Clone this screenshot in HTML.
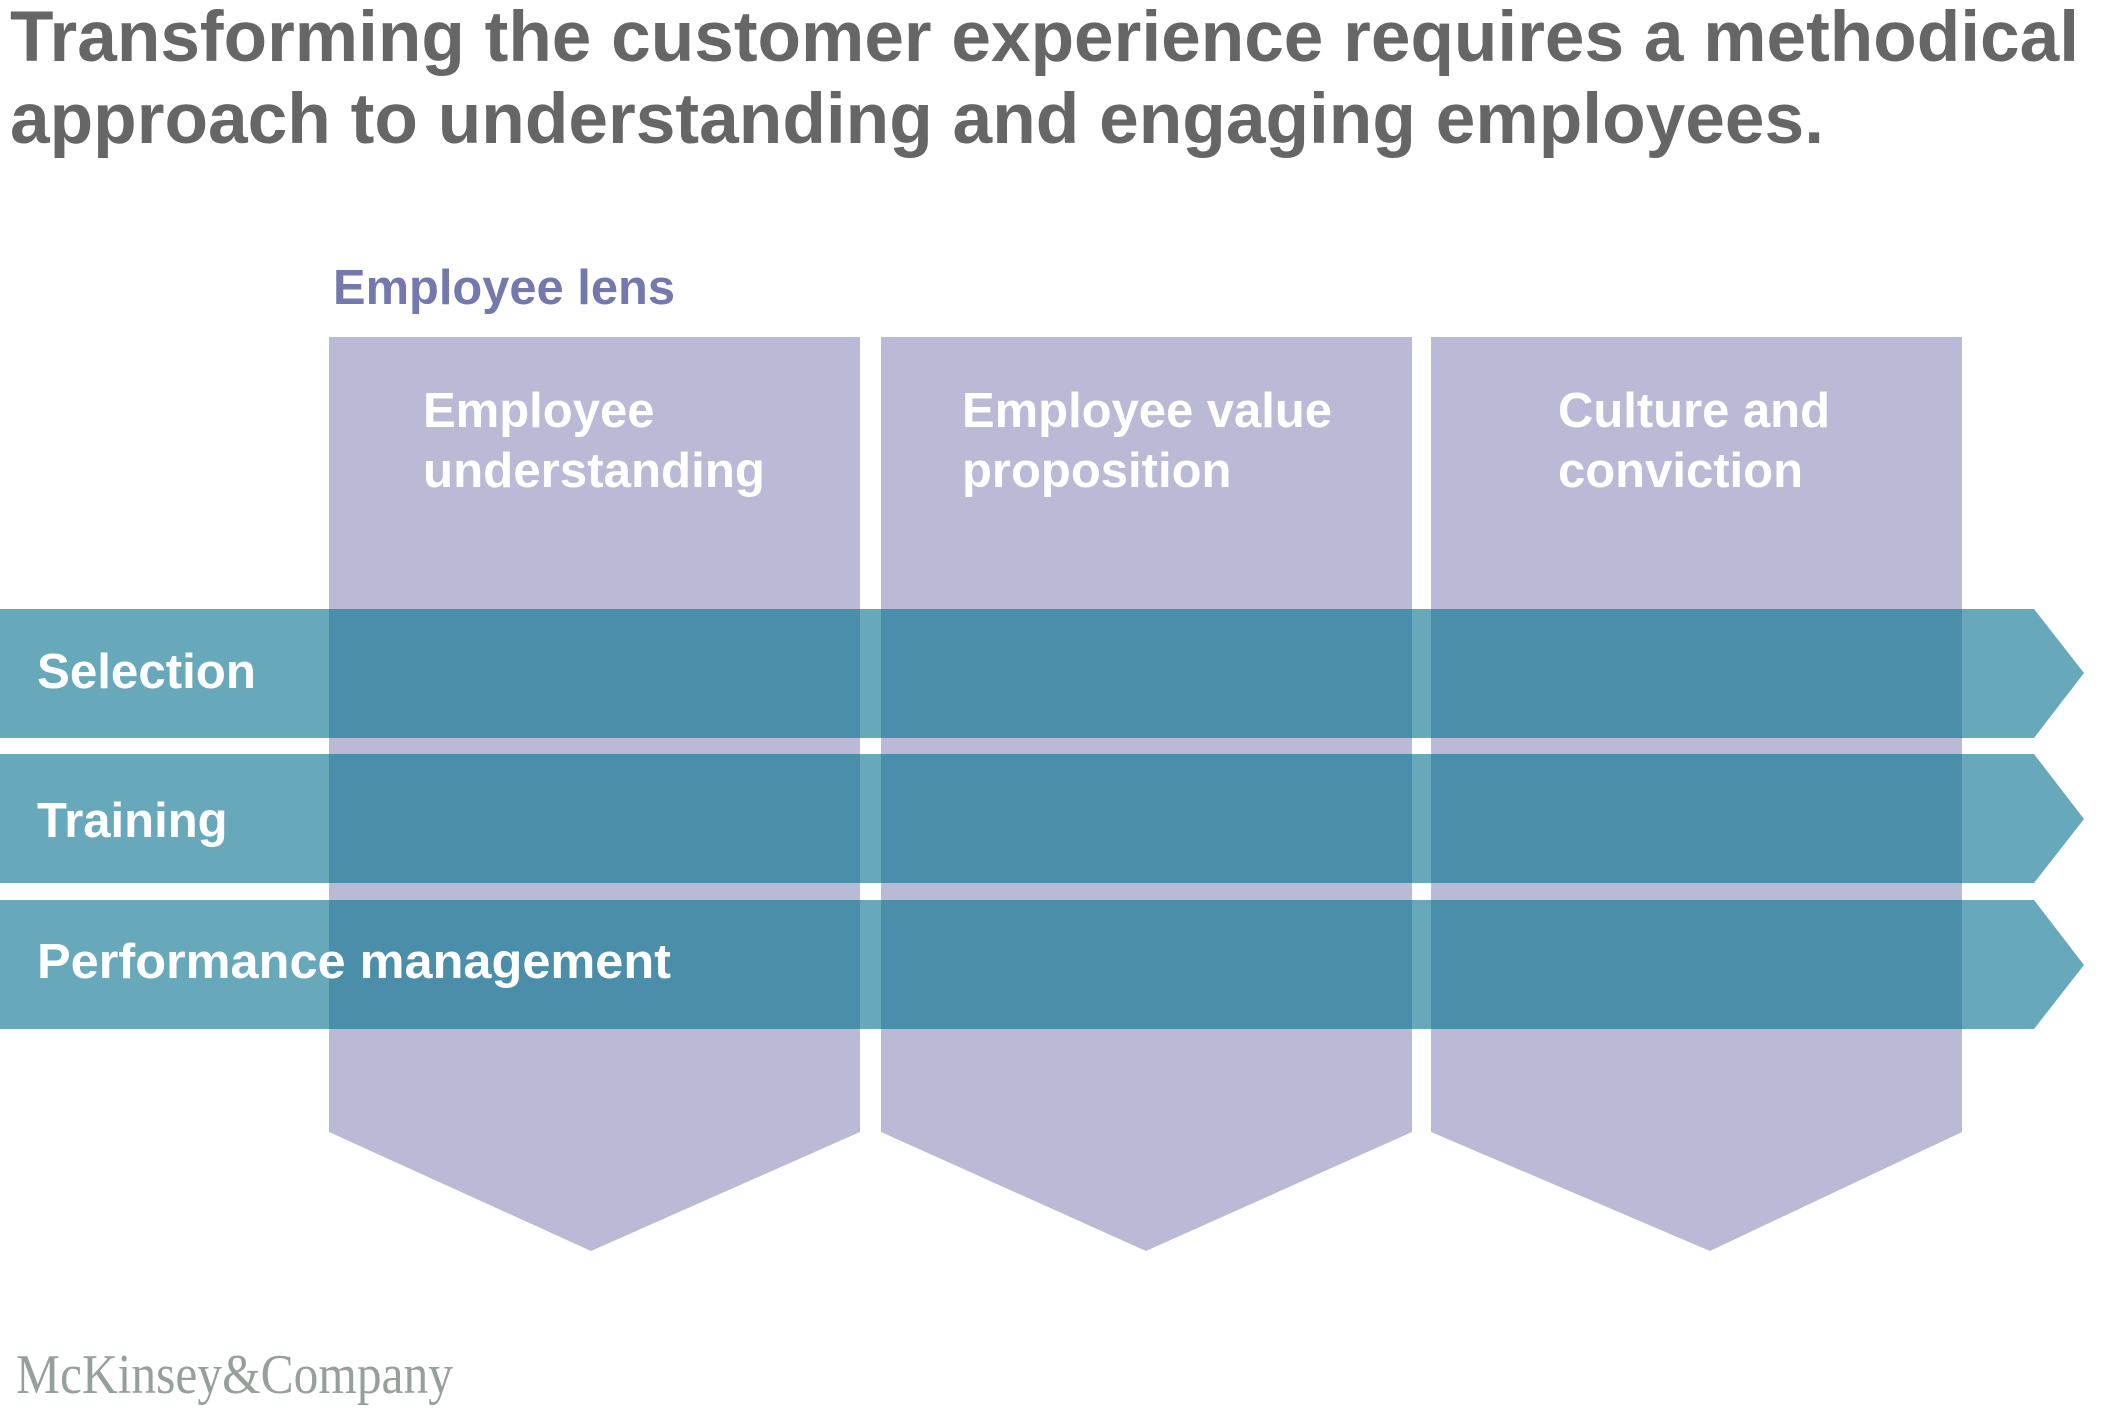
<!DOCTYPE html>
<html>
<head>
<meta charset="utf-8">
<style>
  html, body { margin: 0; padding: 0; background: #ffffff; }
  body { width: 2125px; height: 1420px; overflow: hidden; }
  svg { display: block; }
  .t { font-family: "Liberation Sans", Arial, sans-serif; font-weight: bold; }
</style>
</head>
<body>
<svg width="2125" height="1420" viewBox="0 0 2125 1420" xmlns="http://www.w3.org/2000/svg">
  <!-- Title -->
  <text class="t" x="10" y="61" font-size="71" fill="#666666" textLength="2069" lengthAdjust="spacingAndGlyphs">Transforming the customer experience requires a methodical</text>
  <text class="t" x="10" y="143" font-size="71" fill="#666666" textLength="1814" lengthAdjust="spacingAndGlyphs">approach to understanding and engaging employees.</text>

  <!-- Employee lens label -->
  <text class="t" x="333" y="304" font-size="49" fill="#7479ad" textLength="342" lengthAdjust="spacingAndGlyphs">Employee lens</text>

  <!-- Columns (lavender chevrons) -->
  <polygon points="329,337 860,337 860,1132 591,1251 329,1132" fill="#babad7"/>
  <polygon points="881,337 1412,337 1412,1132 1146,1251 881,1132" fill="#babad7"/>
  <polygon points="1431,337 1962,337 1962,1132 1710,1251 1431,1132" fill="#babad7"/>

  <!-- Bands (teal arrows) -->
  <polygon points="0,609 2034,609 2084,673 2034,738 0,738" fill="#67a9ba"/>
  <polygon points="0,754 2034,754 2084,819 2034,883 0,883" fill="#67a9ba"/>
  <polygon points="0,900 2034,900 2084,965 2034,1029 0,1029" fill="#67a9ba"/>

  <!-- Overlaps -->
  <g fill="#4b8ea9">
    <rect x="329" y="609" width="531" height="129"/>
    <rect x="881" y="609" width="531" height="129"/>
    <rect x="1431" y="609" width="531" height="129"/>
    <rect x="329" y="754" width="531" height="129"/>
    <rect x="881" y="754" width="531" height="129"/>
    <rect x="1431" y="754" width="531" height="129"/>
    <rect x="329" y="900" width="531" height="129"/>
    <rect x="881" y="900" width="531" height="129"/>
    <rect x="1431" y="900" width="531" height="129"/>
  </g>

  <!-- Column headers -->
  <g class="t" font-size="49" fill="#ffffff">
    <text x="423" y="427">Employee</text>
    <text x="423" y="487" textLength="342" lengthAdjust="spacingAndGlyphs">understanding</text>
    <text x="962" y="427" textLength="370" lengthAdjust="spacingAndGlyphs">Employee value</text>
    <text x="962" y="487">proposition</text>
    <text x="1558" y="427" textLength="272" lengthAdjust="spacingAndGlyphs">Culture and</text>
    <text x="1558" y="487">conviction</text>
  </g>

  <!-- Band labels -->
  <g class="t" font-size="49" fill="#ffffff">
    <text x="37" y="688" textLength="219" lengthAdjust="spacingAndGlyphs">Selection</text>
    <text x="37" y="837">Training</text>
    <text x="37" y="978" textLength="634" lengthAdjust="spacingAndGlyphs">Performance management</text>
  </g>

  <!-- Logo -->
  <text x="16" y="1393" font-family="'Liberation Serif', 'Times New Roman', serif" font-size="56" fill="#96a09b" textLength="437" lengthAdjust="spacingAndGlyphs">McKinsey&amp;Company</text>
</svg>
</body>
</html>
